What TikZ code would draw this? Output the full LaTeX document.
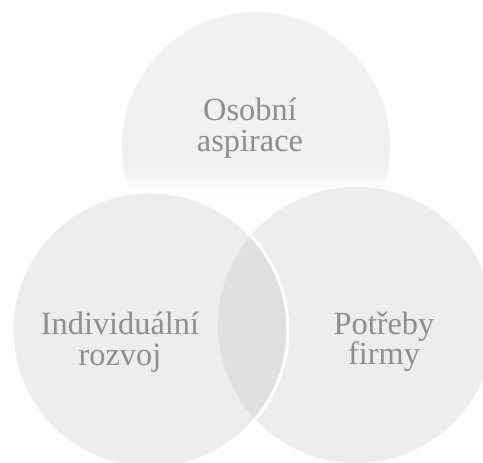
\documentclass[tikz,border=0pt]{standalone}
\usepackage{fontspec}
\setmainfont{Liberation Serif}
\definecolor{ring}{HTML}{EDEDED}
\definecolor{ringtop}{HTML}{F1F1F1}
\definecolor{overlap}{HTML}{E0E0E0}
\definecolor{label}{HTML}{8E8E8E}
\pgfdeclareverticalshading{topfade}{100bp}{%
  color(0bp)=(white); color(40.5bp)=(white);
  color(46bp)=(ringtop); color(100bp)=(ringtop)}
\tikzset{
  disc/.style={fill=ring, draw=none},
  rim/.style={draw=white, line width=3bp},
  lbl/.style={font=\fontsize{32.5}{30.5}\selectfont, text=label,
              align=center, inner sep=0pt},
}

\begin{document}
\begin{tikzpicture}[x=1bp, y=-1bp]

  \useasboundingbox (0,0) rectangle (483,463);

  % three circles
  \shade[shading=topfade] (256,146) circle[radius=134];
  \fill[disc] (356,325) circle[radius=138];
  \fill[disc] (150,330) circle[radius=138];
  \begin{scope}
    \clip (356,325) circle[radius=138];
    \fill[overlap] (150,330) circle[radius=138];
  \end{scope}
  \draw[rim] (150,330) circle[radius=138];

  \node[lbl] (aspirace) at (250,128) {Osobní\\aspirace};
  \node[lbl] (rozvoj) at (120,342) {Individuální\\rozvoj};
  \node[lbl] (firmy) at (384,342) {Potřeby\\firmy};

\end{tikzpicture}
\end{document}
